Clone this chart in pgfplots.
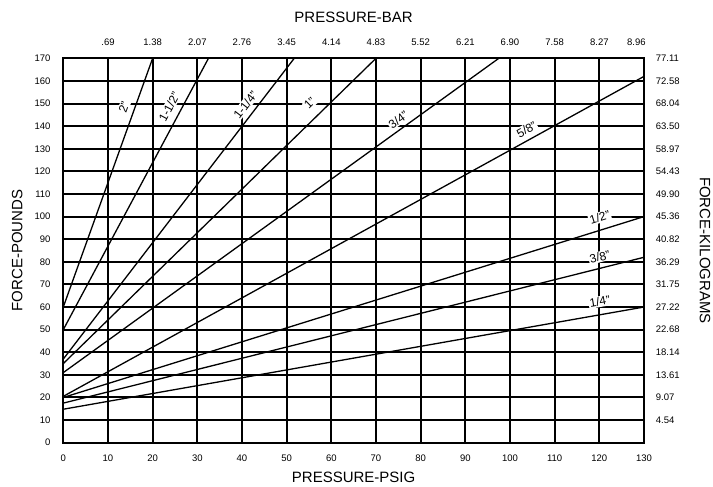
\documentclass[border=0pt]{standalone}
\usepackage{fontspec}
\setmainfont{Liberation Sans}
\usepackage{pgfplots}
\pgfplotsset{compat=1.18}
\tikzset{lbl/.style={fill=white, inner sep=1pt, font=\fontsize{12}{14}\selectfont}}
\begin{document}
\begin{tikzpicture}
\pgfplotsset{
  common/.style={scale only axis, width=580.7pt, height=384.4pt,
    xmin=0, xmax=130, ymin=0, ymax=170,
    major tick length=0pt, minor tick length=0pt,
    /pgf/number format/assume math mode=true,
    tick label style={font=\fontsize{9.5}{11}\selectfont, inner sep=0pt},
    label style={font=\fontsize{15}{18}\selectfont, inner sep=0pt}},
}
\begin{axis}[common,
  xtick={0,10,20,30,40,50,60,70,80,90,100,110,120,130},
  ytick={0,10,20,30,40,50,60,70,80,90,100,110,120,130,140,150,160,170},
  grid=major, major grid style={black, line width=2pt},
  axis line style={black, line width=2pt},
  xticklabel style={anchor=center, yshift=-16pt},
  yticklabel style={anchor=east, xshift=-12.6pt},
  xlabel={PRESSURE-PSIG}, ylabel={FORCE-POUNDS},
  xlabel style={at={(axis description cs:0.5,-0.091)}, anchor=center},
  ylabel style={at={(axis description cs:-0.0792,0.5)}, anchor=center},
]
\coordinate (O) at (rel axis cs:0,0);
% 2"
\addplot[black, line width=1.3pt] coordinates {(0,60) (20,170)};
% 1-1/2"
\addplot[black, line width=1.3pt] coordinates {(0,50) (32.5,170)};
% 1-1/4"
\addplot[black, line width=1.3pt] coordinates {(0,37) (51.7,170)};
% 1"
\addplot[black, line width=1.3pt] coordinates {(0,35) (70,170)};
% 3/4"
\addplot[black, line width=1.3pt] coordinates {(0,31) (97.5,170)};
% 5/8"
\addplot[black, line width=1.3pt] coordinates {(0,20.5) (130,162)};
% 1/2"
\addplot[black, line width=1.3pt] coordinates {(0,20) (130,100)};
% 3/8"
\addplot[black, line width=1.3pt] coordinates {(0,17.5) (130,82)};
% 1/4"
\addplot[black, line width=1.3pt] coordinates {(0,14.8) (130,60)};
\node[lbl, rotate=70.2] at (axis cs:13.6,148.5) {2"};
\node[lbl, rotate=61.8] at (axis cs:23.7,148.5) {1-1/2"};
\node[lbl, rotate=52.5] at (axis cs:40.8,149.4) {1-1/4"};
\node[lbl, rotate=44.3] at (axis cs:55.2,150.1) {1"};
\node[lbl, rotate=35.9] at (axis cs:75.0,142.9) {3/4"};
\node[lbl, rotate=28.8] at (axis cs:103.7,138.6) {5/8"};
\node[lbl, rotate=17.4] at (axis cs:120.1,99.6) {1/2"};
\node[lbl, rotate=14.1] at (axis cs:120.1,82.2) {3/8"};
\node[lbl, rotate=9.9] at (axis cs:120.1,62.4) {1/4"};
\end{axis}
\begin{axis}[common, axis line style={draw=none},
  xtick={10,20,30,40,50,60,70,80,90,100,110,120,128.3},
  xticklabels={.69,1.38,2.07,2.76,3.45,4.14,4.83,5.52,6.21,6.90,7.58,8.27,8.96},
  ytick={10,20,30,40,50,60,70,80,90,100,110,120,130,140,150,160,170},
  yticklabels={4.54,9.07,13.61,18.14,22.68,27.22,31.75,36.29,40.82,45.36,49.90,54.43,58.97,63.50,68.04,72.58,77.11},
  xticklabel pos=right, yticklabel pos=right,
  xticklabel style={anchor=center, yshift=15.6pt},
  yticklabel style={anchor=west, xshift=11.7pt},
  xlabel={PRESSURE-BAR}, ylabel={FORCE-KILOGRAMS},
  xlabel style={at={(axis description cs:0.5,1.1067)}, anchor=center},
  ylabel style={at={(axis description cs:1.105,0.5)}, anchor=center, rotate=180},
]
\addplot[draw=none] coordinates {(0,0)};
\end{axis}
\path (O) ++(-63.3pt,-44.3pt) rectangle ++(713pt,487pt);
\end{tikzpicture}
\end{document}
